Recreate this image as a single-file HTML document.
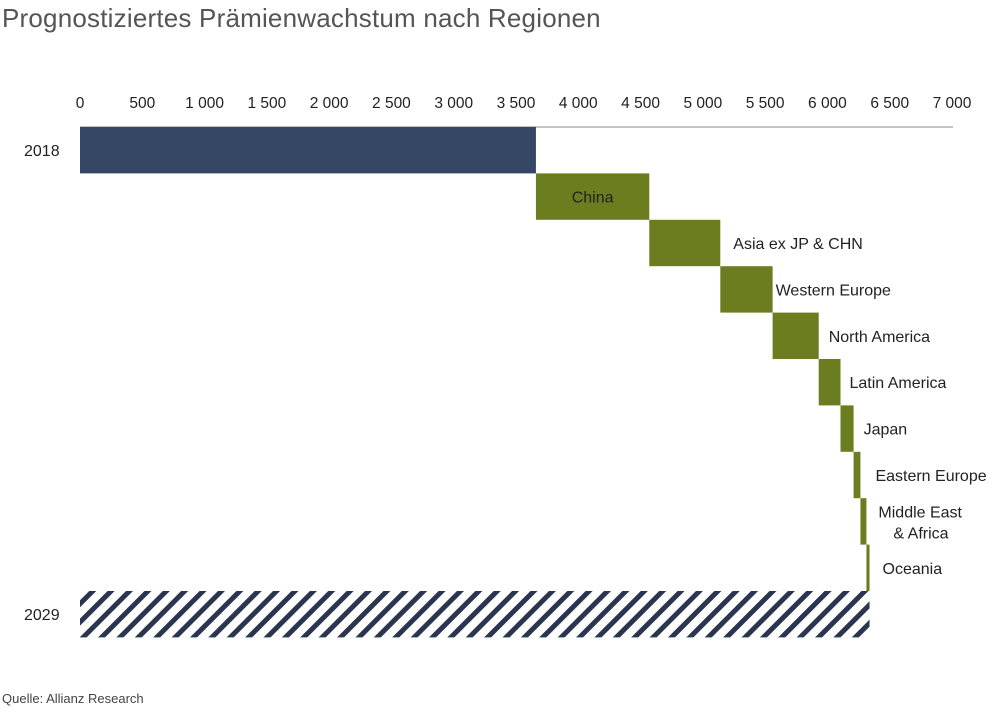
<!DOCTYPE html>
<html><head><meta charset="utf-8"><style>
body{margin:0;background:#fff;width:1000px;height:712px;overflow:hidden;font-family:"Liberation Sans",sans-serif;}
#title{position:absolute;left:2px;top:3px;font-size:26px;color:#555;letter-spacing:0.2px}
#src{position:absolute;left:2px;top:691px;font-size:13px;color:#444}
</style></head><body>
<div id="title">Prognostiziertes Prämienwachstum nach Regionen</div>
<svg id="chart" width="1000" height="712" style="position:absolute;left:0;top:0">
<defs><pattern id="hatch" patternUnits="userSpaceOnUse" width="13" height="13" patternTransform="rotate(45)">
<rect width="13" height="13" fill="#fff"/><rect width="5" height="13" fill="#2b3550"/></pattern></defs>
</svg>
<div id="src">Quelle: Allianz Research</div>
<script>
const startValue = 3660;
const categories = ["China","Asia ex JP & CHN","Western Europe","North America","Latin America","Japan","Eastern Europe","Middle East\n& Africa","Oceania"];
const increments = [910,570,420,370,175,105,55,48,25];
const ticks = [0,500,1000,1500,2000,2500,3000,3500,4000,4500,5000,5500,6000,6500,7000];
const labelGap = [0,13,3,10,9,10,15,12,13];
const svg=document.getElementById('chart');const NS='http://www.w3.org/2000/svg';
const x=v=>80+v*872/7000;const top0=127,rowH=46.4;
function mk(t,a){const e=document.createElementNS(NS,t);for(const k in a)e.setAttribute(k,a[k]);svg.appendChild(e);return e;}
let ax=mk('line',{x1:80,x2:953,y1:127,y2:127,stroke:'#888','stroke-width':1});


ticks.forEach(t=>{const e=mk('text',{x:x(t),y:108,'text-anchor':'middle','font-size':15.5,fill:'#222'});
e.textContent=t>=1000?Math.floor(t/1000)+' '+String(t%1000).padStart(3,'0'):String(t);

});
let b=mk('rect',{x:x(0),y:top0,width:x(startValue)-x(0),height:rowH,fill:'#364765'});


let l=mk('text',{x:24,y:top0+rowH/2+6,'font-size':16,fill:'#222'});l.textContent='2018';


let cum=startValue;
categories.forEach((c,i)=>{const y=top0+rowH*(i+1);const x0=x(cum),x1=x(cum+increments[i]);
const r=mk('rect',{x:x0,y:y,width:Math.max(x1-x0,1),height:rowH,fill:'#6b7d1f'});


const lines=c.split('\n');
const inside=(x1-x0)>100;
const lx=inside?(x0+x1)/2:x1+labelGap[i];
const t=mk('text',{x:lx,y:y+rowH/2+6-(lines.length-1)*10,'font-size':16,fill:'#222','text-anchor':inside?'middle':'start'});
lines.forEach((s,j)=>{const ts=document.createElementNS(NS,'tspan');ts.setAttribute('x',lx+(j?15:0));if(j)ts.setAttribute('dy',21);ts.textContent=s;t.appendChild(ts);});


cum+=increments[i];});
const yE=top0+rowH*10;
let e=mk('rect',{x:x(0),y:yE,width:x(cum)-x(0),height:rowH,fill:'url(#hatch)'});


let l2=mk('text',{x:24,y:yE+rowH/2+6,'font-size':16,fill:'#222'});l2.textContent='2029';


</script>
</body></html>
